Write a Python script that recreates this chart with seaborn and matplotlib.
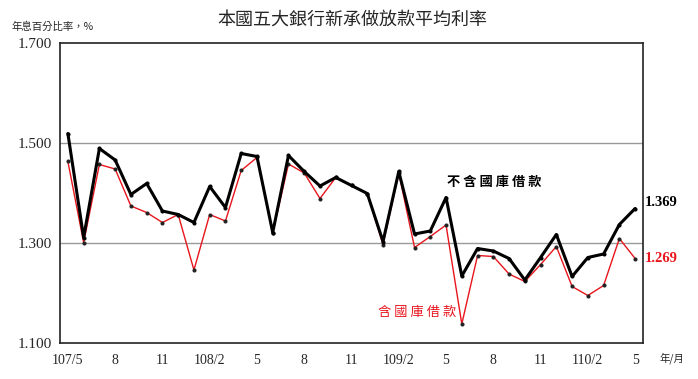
import numpy as np
import pandas as pd
import matplotlib
matplotlib.use("Agg")
import matplotlib.pyplot as plt
import seaborn as sns

# Monthly data 107/5 - 110/5
months = ["107/5", "6", "7", "8", "9", "10", "11", "12", "108/1", "2", "3", "4",
          "5", "6", "7", "8", "9", "10", "11", "12", "109/1", "2", "3", "4",
          "5", "6", "7", "8", "9", "10", "11", "12", "110/1", "2", "3", "4", "5"]

excl_treasury = [1.519, 1.311, 1.489, 1.466, 1.397, 1.419, 1.364, 1.357, 1.341, 1.413,
                 1.371, 1.479, 1.473, 1.321, 1.475, 1.443, 1.414, 1.431, 1.415, 1.399,
                 1.303, 1.443, 1.318, 1.324, 1.391, 1.234, 1.289, 1.284, 1.269, 1.226,
                 1.271, 1.317, 1.233, 1.271, 1.278, 1.337, 1.369]

incl_treasury = [1.463, 1.301, 1.457, 1.448, 1.374, 1.361, 1.341, 1.357, 1.246, 1.357,
                 1.344, 1.445, 1.471, 1.321, 1.458, 1.440, 1.389, 1.431, 1.415, 1.399,
                 1.297, 1.440, 1.291, 1.313, 1.336, 1.138, 1.275, 1.273, 1.238, 1.223,
                 1.257, 1.293, 1.213, 1.195, 1.215, 1.309, 1.269]

tick_labels = ["107/5", "8", "11", "108/2", "5", "8", "11", "109/2", "5", "8", "11", "110/2", "5"]

df = pd.DataFrame({
    "idx": np.arange(len(months)),
    "excl": excl_treasury,
    "incl": incl_treasury,
})

sns.set_style("white")
plt.rcParams["font.family"] = ["Liberation Serif", "Noto Sans CJK TC", "DejaVu Sans"]
cjk = ["Noto Sans CJK TC", "DejaVu Sans"]

fig = plt.figure(figsize=(6.98, 3.79), dpi=100)
ax = fig.add_axes([60 / 698, 1 - 343 / 379, 583 / 698, 300 / 379])

sns.lineplot(data=df, x="idx", y="incl", ax=ax, color="#e8141c", linewidth=1.0,
             marker="o", markersize=2.2, markerfacecolor="#222222",
             markeredgecolor="#222222")
sns.lineplot(data=df, x="idx", y="excl", ax=ax, color="black", linewidth=2.2,
             marker="o", markersize=2.2, markerfacecolor="black",
             markeredgecolor="black")

ax.set_xlim(-0.5, len(months) - 0.5)
ax.set_ylim(1.1, 1.7)
ax.set_yticks([1.1, 1.3, 1.5, 1.7])
ax.set_yticklabels(["1.100", "1.300", "1.500", "1.700"], fontsize=11)
ax.set_xticks(np.arange(0, len(months), 3))
ax.set_xticklabels(tick_labels, fontsize=10)
ax.set_xticks(np.arange(-0.5, len(months), 1), minor=True)
ax.tick_params(axis="x", which="major", length=0, pad=8)
ax.tick_params(axis="x", which="minor", direction="in", length=4, width=0.8, color="#333333")
ax.tick_params(axis="y", length=0, pad=6)
ax.set_xlabel("")
ax.set_ylabel("")

for y in [1.3, 1.5]:
    ax.axhline(y, color="#999999", linewidth=1.0, zorder=0)

for s in ax.spines.values():
    s.set_color("#222222")
    s.set_linewidth(1.2)

ax.text(0.744, 0.537, "不 含 國 庫 借 款", transform=ax.transAxes, fontsize=9.5,
        fontweight="bold", family=cjk, color="black", ha="center", va="center")
ax.text(0.612, 0.103, "含 國 庫 借 款", transform=ax.transAxes, fontsize=9.5,
        family=cjk, color="#e8141c", ha="center", va="center")

ax.annotate(f"{excl_treasury[-1]:.3f}", xy=(36, excl_treasury[-1]), xytext=(7, 4),
            textcoords="offset points", fontsize=10.5, fontweight="bold",
            color="black", va="center", annotation_clip=False)
ax.annotate(f"{incl_treasury[-1]:.3f}", xy=(36, incl_treasury[-1]), xytext=(7, 0),
            textcoords="offset points", fontsize=10.5, fontweight="bold",
            color="#e8141c", va="center", annotation_clip=False)

fig.text(660 / 698, 1 - 358 / 379, "年/月", fontsize=7.5, family=cjk,
         ha="left", va="center")
fig.text(12 / 698, 1 - 27 / 379, "年息百分比率，%", fontsize=7.5, family=cjk,
         ha="left", va="center")
fig.text(352 / 698, 1 - 20 / 379, "本國五大銀行新承做放款平均利率", fontsize=13,
         family=cjk, ha="center", va="center")

fig.savefig("out.png", dpi=100)
